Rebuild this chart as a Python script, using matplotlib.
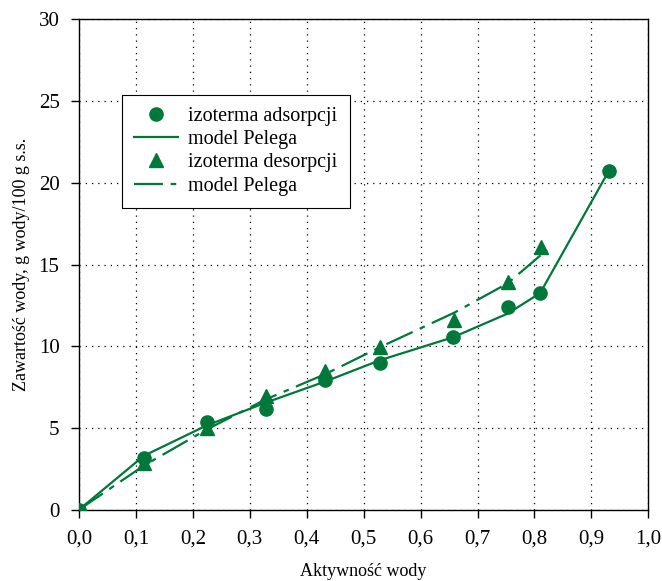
import matplotlib
matplotlib.use("Agg")
import matplotlib.pyplot as plt
import matplotlib.ticker as mticker

plt.rcParams['font.family'] = ['Liberation Serif', 'DejaVu Serif']

# adsorpcja - punkty pomiarowe
aw_ads = [0.0, 0.114, 0.224, 0.328, 0.433, 0.529, 0.657, 0.753, 0.810, 0.931]
u_ads = [0.0, 3.14, 5.35, 6.15, 7.95, 8.95, 10.55, 12.42, 13.25, 20.75]
# model Pelega - adsorpcja
u_ads_model = [0.0, 3.3, 5.15, 6.55, 7.85, 9.15, 10.55, 12.0, 13.25, 20.75]

# desorpcja - punkty pomiarowe
aw_des = [0.0, 0.114, 0.224, 0.328, 0.433, 0.529, 0.659, 0.753, 0.811]
u_des = [0.0, 2.85, 5.0, 6.95, 8.5, 9.95, 11.6, 13.95, 16.1]
# model Pelega - desorpcja
aw_des_model = [0.0, 0.114, 0.224, 0.328, 0.433, 0.529, 0.659, 0.753, 0.822]
u_des_model = [0.0, 2.7, 4.9, 6.75, 8.3, 9.95, 12.05, 13.85, 15.9]

green = '#00783A'

fig = plt.figure(figsize=(6.62, 5.81), dpi=100)
ax = fig.add_axes([0.1193, 0.1227, 0.86, 0.844])

ax.plot(aw_ads, u_ads, 'o', color=green, markersize=9.5, label='izoterma adsorpcji', zorder=3)
ax.plot(aw_ads, u_ads_model, '-', color=green, linewidth=1.6, label='model Pelega', zorder=2)
ax.plot(aw_des, u_des, '^', color=green, markersize=9.5, label='izoterma desorpcji', zorder=3)
ax.plot(aw_des_model, u_des_model, color=green, linewidth=1.6, dashes=(13, 3.5, 2.5, 3.5),
        label='model Pelega', zorder=2)

ax.set_xlim(0, 1.0)
ax.set_ylim(0, 30)
ax.set_xticks([i / 10 for i in range(11)])
ax.set_yticks(range(0, 31, 5))
ax.xaxis.set_major_formatter(mticker.FuncFormatter(lambda v, p: ('%.1f' % v).replace('.', ',')))
ax.tick_params(direction='out', length=6, width=1, labelsize=15, pad=8)
ax.tick_params(axis='y', pad=8)
for s in ax.spines.values():
    s.set_linewidth(1.0)

ax.grid(True, color='black', linestyle=(0, (1, 4)), linewidth=0.9)

ax.set_xlabel('Aktywność wody', fontsize=13, labelpad=11)
ax.set_ylabel('Zawartość wody, g wody/100 g s.s.', fontsize=13, labelpad=6)

leg = ax.legend(loc='upper left', bbox_to_anchor=(0.0755, 0.8456), borderaxespad=0,
                fontsize=14.5, frameon=True, fancybox=False, framealpha=1, edgecolor='black',
                handlelength=2.2, handletextpad=0.5, labelspacing=0.2, borderpad=0.6)
leg.get_frame().set_linewidth(0.8)

fig.savefig('out.png', dpi=100)
